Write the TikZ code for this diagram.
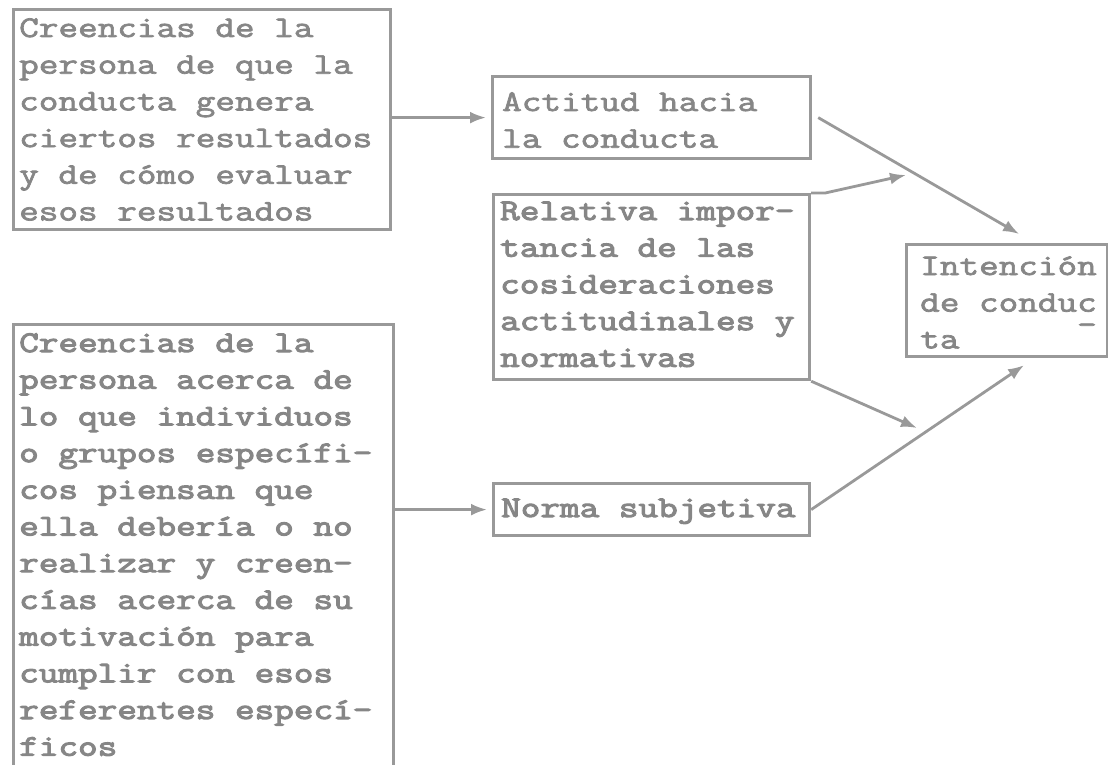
\documentclass[tikz,border=0pt]{standalone}
\usepackage{fontspec}
\newfontfamily\tw[FakeStretch=1.27,FakeBold=2.4]{Latin Modern Mono}
\newfontfamily\twb[FakeStretch=1.27,FakeBold=3.6]{Latin Modern Mono}
\usetikzlibrary{arrows.meta}
\definecolor{linegray}{HTML}{999999}
\definecolor{textgray}{HTML}{868686}
\tikzset{
  boxst/.style={draw=linegray, line width=3.2pt, rectangle, inner sep=0pt, anchor=north west},
  txt/.style={inner sep=0pt, anchor=base west, text=textgray, font=\tw\fontsize{30}{36.7}\selectfont},
  txtb/.style={txt, font=\twb\fontsize{30}{36.7}\selectfont},
  arr/.style={draw=linegray, line width=2.8pt, -{Latex[length=16pt,width=12pt]}},
}
\newcommand{\lines}[1]{\parbox[t]{420pt}{\raggedright #1}}
\begin{document}
\begin{tikzpicture}[x=1pt,y=-1pt]
\useasboundingbox (0,0) rectangle (1108,765);
% boxes
\node[boxst, minimum width=377pt, minimum height=220pt] (b1) at (12,8) {};
\node[boxst, minimum width=318pt, minimum height=82pt] (b2) at (491,75) {};
\node[boxst, minimum width=316pt, minimum height=185pt] (b3) at (492,193) {};
\node[boxst, minimum width=201pt, minimum height=112pt] (b4) at (905,243) {};
\node[boxst, minimum width=380pt, minimum height=450pt] (b5) at (12,323) {};
\node[boxst, minimum width=316pt, minimum height=52pt] (b6) at (492,482) {};
% texts
\node[txt] (t1) at (19,37) {\lines{Creencias de la\\persona de que la\\conducta genera\\ciertos resultados\\y de cómo evaluar\\esos resultados}};
\node[txt] (t2) at (502,111) {\lines{Actitud hacia\\la conducta}};
\node[txtb] (t3) at (500,220) {\lines{Relativa impor-\\tancia de las\\cosideraciones\\actitudinales y\\normativas}};
\node[txt] (t4) at (920,275) {\lines{Intención\\de condu\rlap{\raisebox{-8pt}{\_}}c\\ta}};
\node[txtb] (t5) at (19,352) {\lines{Creencias de la\\persona acerca de\\lo que individuos\\o grupos específi-\\cos piensan que\\ella debería o no\\realizar y creen-\\cías acerca de su\\motivación para\\cumplir con esos\\referentes especí-\\ficos}};
\node[txtb] (t6) at (501,517) {\lines{Norma subjetiva}};
% connector end points
\coordinate (m1) at (906,175);
\coordinate (m2) at (917,428);
% arrows
\draw[arr, shorten >=5pt] (b1.east |- b2.west) -- (b2.west);
\draw[arr, shorten >=5pt] (b5.east |- b6.west) -- (b6.west);
\draw[arr] ([xshift=6pt]b2.east) -- ([xshift=12pt,yshift=9pt]b4.north);
\draw[arr] (b3.north east) -- ++(14,0) -- (m1);
\draw[arr] (b3.south east) -- (m2);
\draw[arr] (b6.east) -- ([xshift=17pt,yshift=-7pt]b4.south);
\end{tikzpicture}
\end{document}
